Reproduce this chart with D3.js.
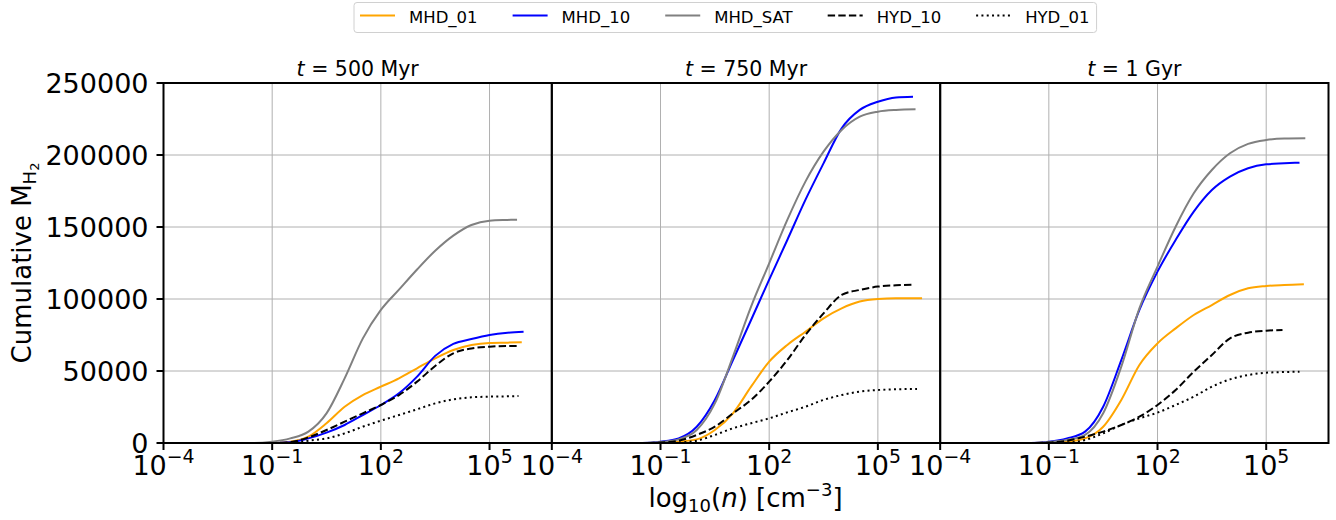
<!DOCTYPE html>
<html><head><meta charset="utf-8">
<script src="https://cdn.jsdelivr.net/npm/d3@7"></script>
<style>body{margin:0;background:#fff;} text{font-family:"DejaVu Sans",sans-serif;fill:#000;}</style>
</head><body><svg id="c" width="1336" height="520"></svg>
<script>
// ---------- data ----------
const seriesNames = ["MHD_01", "MHD_10", "MHD_SAT", "HYD_10", "HYD_01"];
const seriesColors = ["orange", "blue", "gray", "black", "black"];
const seriesDash = [null, null, null, "7.4,3.2", "2,3.3"];
const panelTimes = ["500 Myr", "750 Myr", "1 Gyr"];
// log10(n) sample grid; the final sample of each series sits at its own end point
const logN = [-4, -1.5, -1, -0.5, 0, 0.5, 1, 1.5, 2, 2.5, 3, 3.5, 4, 4.5, 5, 5.5];
const xTickExps = [-4, -1, 2, 5];
const yTicks = [0, 50000, 100000, 150000, 200000, 250000];

// t = 500 Myr
const mhd01_500  = [0, 0, 0, 900, 4400, 13700, 25200, 33300, 39100, 44900, 51900, 58800, 64600, 68100, 69500, 69700, 69900];
const mhd10_500  = [0, 0, 0, 500, 3200, 7200, 12500, 19400, 26400, 34500, 46100, 60500, 68800, 72200, 75000, 76600, 77300];
const mhdsat_500 = [0, 0, 900, 3200, 7900, 20600, 44900, 72500, 92400, 106500, 120500, 133500, 144000, 151400, 154400, 154900, 155100];
const hyd10_500  = [0, 0, 0, 600, 3900, 9000, 14800, 20600, 26400, 33300, 42600, 53500, 62300, 65700, 66900, 67400, 67400];
const hyd01_500  = [0, 0, 0, 0, 1600, 3200, 6700, 11300, 15500, 19400, 23400, 27500, 30300, 31700, 32200, 32400, 32600];
const end_500    = [5.89, 5.94, 5.76, 5.8, 5.8];

// t = 750 Myr
const mhd01_750  = [0, 0, 0, 900, 2500, 9000, 20600, 39100, 56500, 68100, 77300, 86600, 93500, 98200, 100000, 100500, 100500];
const mhd10_750  = [0, 0, 900, 3200, 11300, 29900, 57600, 85400, 113500, 141000, 168800, 194200, 218500, 231300, 237000, 240000, 240500];
const mhdsat_750 = [0, 0, 700, 2500, 9000, 27500, 60000, 94700, 124800, 154900, 181500, 202300, 217400, 226600, 230100, 231300, 231700];
const hyd10_750  = [0, 0, 300, 1600, 5600, 11300, 20600, 29900, 42600, 57600, 75000, 90000, 102800, 106300, 108600, 109500, 110000];
const hyd01_750  = [0, 0, 0, 300, 1600, 5600, 10200, 13700, 17100, 21300, 25200, 29900, 33300, 35700, 36800, 37300, 37500];
const end_750    = [6.22, 5.97, 6.04, 6.0, 6.08];

// t = 1 Gyr
const mhd01_1000  = [0, 0, 300, 900, 3200, 11300, 29900, 54200, 69200, 79600, 88900, 95800, 102800, 107400, 109000, 109700, 110200];
const mhd10_1000  = [0, 0, 900, 3200, 7900, 25200, 57600, 92400, 119000, 141000, 160700, 175700, 185000, 190800, 193500, 194200, 194700];
const mhdsat_1000 = [0, 0, 700, 2100, 5600, 20600, 53000, 93500, 122500, 150200, 173400, 189600, 201200, 207700, 210400, 211400, 211600];
const hyd10_1000  = [0, 0, 300, 1600, 4400, 7900, 12500, 18300, 26400, 36800, 49500, 61100, 72700, 76600, 78000, null, 78500];
const hyd01_1000  = [0, 0, 0, 300, 2100, 6700, 12500, 17100, 21100, 26400, 32200, 39100, 44200, 47200, 48800, 49300, 49500];
const end_1000    = [6.04, 5.92, 6.08, 5.45, 5.92];

const panels = [
  {title: panelTimes[0], values: [mhd01_500, mhd10_500, mhdsat_500, hyd10_500, hyd01_500], ends: end_500},
  {title: panelTimes[1], values: [mhd01_750, mhd10_750, mhdsat_750, hyd10_750, hyd01_750], ends: end_750},
  {title: panelTimes[2], values: [mhd01_1000, mhd10_1000, mhdsat_1000, hyd10_1000, hyd01_1000], ends: end_1000}
];

// ---------- layout ----------
const svg = d3.select("#c");
svg.append("rect").attr("width", 1336).attr("height", 520).attr("fill", "#fff");
const plotL = 163.5, plotR = 1328.5, plotTop = 83, plotBottom = 443;
const pw = (plotR - plotL) / 3;
const y = d3.scaleLinear().domain([0, 250000]).range([plotBottom, plotTop]);
const tickFont = 27;

function addPow(sel, base, exp) {
  sel.append("tspan").text(base);
  sel.append("tspan").attr("dy", -12).attr("font-size", tickFont * 0.7).text(exp);
}

panels.forEach((p, i) => {
  const left = plotL + i * pw;
  const x = d3.scaleLog().domain([1e-4, Math.pow(10, 6.72)]).range([left, left + pw]);
  const g = svg.append("g");

  // grid
  g.selectAll(".gx").data(xTickExps).enter().append("line")
    .attr("x1", d => x(Math.pow(10, d))).attr("x2", d => x(Math.pow(10, d)))
    .attr("y1", plotTop).attr("y2", plotBottom).attr("stroke", "#b0b0b0").attr("stroke-width", 1);
  g.selectAll(".gy").data(yTicks).enter().append("line")
    .attr("x1", left).attr("x2", left + pw)
    .attr("y1", d => y(d)).attr("y2", d => y(d)).attr("stroke", "#b0b0b0").attr("stroke-width", 1);

  // curves
  const line = d3.line().x(d => x(Math.pow(10, d[0]))).y(d => y(d[1])).curve(d3.curveMonotoneX);
  p.values.forEach((vals, s) => {
    const xs = logN.concat([p.ends[s]]);
    const pts = xs.map((l, k) => [l, vals[k]]).filter(d => d[1] != null);
    g.append("path").attr("d", line(pts)).attr("fill", "none")
      .attr("stroke", seriesColors[s]).attr("stroke-width", 2)
      .attr("stroke-dasharray", seriesDash[s]);
  });

  // spines
  g.append("rect").attr("x", left).attr("y", plotTop).attr("width", pw).attr("height", plotBottom - plotTop)
    .attr("fill", "none").attr("stroke", "#000").attr("stroke-width", 2);

  // x ticks
  xTickExps.forEach(e => {
    const xx = x(Math.pow(10, e));
    g.append("line").attr("x1", xx).attr("x2", xx).attr("y1", plotBottom).attr("y2", plotBottom + 7)
      .attr("stroke", "#000").attr("stroke-width", 2);
    const t = g.append("text").attr("x", xx).attr("y", 475).attr("text-anchor", "middle")
      .attr("font-size", tickFont);
    addPow(t, "10", (e < 0 ? "\u2212" : "") + Math.abs(e));
  });

  // title
  const tt = g.append("text").attr("x", left + pw / 2).attr("y", 76).attr("text-anchor", "middle")
    .attr("font-size", 20.5);
  tt.append("tspan").attr("font-style", "italic").text("t");
  tt.append("tspan").text(" = " + p.title);
});

// y ticks (first panel only)
yTicks.forEach(v => {
  svg.append("line").attr("x1", plotL - 7).attr("x2", plotL).attr("y1", y(v)).attr("y2", y(v))
    .attr("stroke", "#000").attr("stroke-width", 2);
  svg.append("text").attr("x", 148.5).attr("y", y(v) + 9.5).attr("text-anchor", "end")
    .attr("font-size", tickFont).text(v);
});

// y label
const yl = svg.append("text").attr("transform", "translate(31,263) rotate(-90)")
  .attr("text-anchor", "middle").attr("font-size", 26);
yl.append("tspan").text("Cumulative M");
yl.append("tspan").attr("dy", 5).attr("font-size", 18).text("H");
yl.append("tspan").attr("dy", 3).attr("font-size", 13).text("2");

// x label
const xl = svg.append("text").attr("x", 745.5).attr("y", 507).attr("text-anchor", "middle").attr("font-size", 26);
xl.append("tspan").text("log");
xl.append("tspan").attr("dy", 5).attr("font-size", 18).text("10");
xl.append("tspan").attr("dy", -5).text("(");
xl.append("tspan").attr("font-style", "italic").text("n");
xl.append("tspan").text(") [cm");
xl.append("tspan").attr("dy", -11).attr("font-size", 18).text("\u22123");
xl.append("tspan").attr("dy", 11).text("]");

// legend
const lg = svg.append("g");
const box = lg.append("rect").attr("x", 354).attr("y", 2.5).attr("height", 30).attr("rx", 3)
  .attr("fill", "#fff").attr("stroke", "#d0d0d0").attr("stroke-width", 1);
let lx = 360;
seriesNames.forEach((nm, s) => {
  lg.append("line").attr("x1", lx).attr("x2", lx + 35).attr("y1", 15.5).attr("y2", 15.5)
    .attr("stroke", seriesColors[s]).attr("stroke-width", 2).attr("stroke-dasharray", seriesDash[s]);
  const t = lg.append("text").attr("x", lx + 49).attr("y", 23).attr("font-size", 16.5).text(nm);
  lx = lx + 49 + t.node().getComputedTextLength() + 35;
});
box.attr("width", lx - 35 + 7 - 354);
</script></body></html>
